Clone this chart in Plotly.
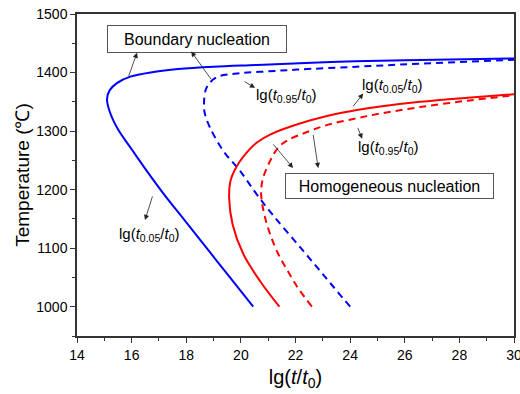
import plotly.graph_objects as go

# ---- data ----
boundary_005_x = [20.45, 19.6, 18.75, 17.9, 17.2, 16.6, 16.0, 15.5, 15.2, 15.1, 15.2, 15.46, 15.95, 16.8, 17.7, 19.0, 20.6, 23.3, 26.0, 30.0]
boundary_005_y = [1000, 1050, 1100, 1150, 1191, 1229, 1269, 1303, 1333, 1355, 1370, 1382, 1393, 1401, 1406, 1410, 1413, 1418, 1421, 1424]

boundary_095_x = [24.0, 23.1, 22.2, 21.2, 20.58, 19.97, 19.36, 18.87, 18.68, 18.65, 18.75, 19.12, 19.97, 21.0, 22.05, 24.25, 26.5, 30.0]
boundary_095_y = [1000, 1050, 1100, 1155, 1192, 1232, 1266, 1306, 1330, 1347, 1375, 1392, 1399, 1402, 1405, 1410, 1415, 1422]

homog_005_x = [21.41, 20.7, 20.09, 19.7, 19.57, 19.62, 19.85, 20.3, 20.6, 21.07, 22.1, 23.27, 24.25, 25.1, 26.56, 28.3, 30.0]
homog_005_y = [1000, 1044, 1090, 1140, 1186, 1215, 1240, 1268, 1281, 1294, 1312, 1327, 1336, 1342, 1350, 1357, 1363]

homog_095_x = [22.6, 22.05, 21.68, 21.37, 21.1, 20.9, 20.78, 20.74, 20.82, 21.07, 21.37, 21.7, 22.4, 23.2, 24.25, 25.1, 26.56, 28.3, 30.0]
homog_095_y = [1000, 1035, 1064, 1090, 1120, 1150, 1176, 1198, 1221, 1249, 1272, 1284, 1298, 1311, 1322, 1330, 1341, 1352, 1361]

x_ticks = [14, 16, 18, 20, 22, 24, 26, 28, 30]
y_ticks = [1000, 1100, 1200, 1300, 1400, 1500]

BLUE = "#0000ff"
RED = "#ff0000"
FONT = "Liberation Sans, Arial, sans-serif"
DASH = "7px,5px"

fig = go.Figure()
series = [
    (boundary_005_x, boundary_005_y, BLUE, "solid"),
    (boundary_095_x, boundary_095_y, BLUE, DASH),
    (homog_005_x, homog_005_y, RED, "solid"),
    (homog_095_x, homog_095_y, RED, DASH),
]
for xs, ys, col, dash in series:
    fig.add_trace(go.Scatter(
        x=xs, y=ys, mode="lines",
        line=dict(color=col, width=2, dash=dash, shape="spline", smoothing=1.0),
        showlegend=False, hoverinfo="skip"))

lbl005 = "lg(<i>t</i><sub>0.05</sub>/<i>t</i><sub>0</sub>)"
lbl095 = "lg(<i>t</i><sub>0.95</sub>/<i>t</i><sub>0</sub>)"

ann = []
# boxes
ann.append(dict(x=18.38, y=1458, xref="x", yref="y", text="Boundary nucleation",
                showarrow=False, font=dict(family=FONT, size=16, color="black"),
                bordercolor="#555", borderwidth=1, width=176, height=24, bgcolor="white"))
ann.append(dict(x=25.43, y=1207, xref="x", yref="y", text="Homogeneous nucleation",
                showarrow=False, font=dict(family=FONT, size=16, color="black"),
                bordercolor="#555", borderwidth=1, width=205, height=22, bgcolor="white"))
# labels
ann.append(dict(x=21.67, y=1361, xref="x", yref="y", text=lbl095, showarrow=False,
                font=dict(family=FONT, size=15, color="black")))
ann.append(dict(x=25.54, y=1378, xref="x", yref="y", text=lbl005, showarrow=False,
                font=dict(family=FONT, size=15, color="black")))
ann.append(dict(x=25.39, y=1272, xref="x", yref="y", text=lbl095, showarrow=False,
                font=dict(family=FONT, size=15, color="black")))
ann.append(dict(x=16.62, y=1123, xref="x", yref="y", text=lbl005, showarrow=False,
                font=dict(family=FONT, size=15, color="black")))

# arrows: (head_x, head_y, tail_x, tail_y)
arrows = [
    (16.2, 1434, 15.87, 1391),
    (18.18, 1436, 18.95, 1386),
    (20.52, 1374, 20.08, 1386),
    (24.48, 1364, 24.07, 1340),
    (24.44, 1287, 24.26, 1308),
    (21.91, 1237, 21.14, 1280),
    (22.83, 1237, 22.64, 1296),
    (16.49, 1148, 16.78, 1191),
]
for hx, hy, tx, ty in arrows:
    ann.append(dict(x=hx, y=hy, ax=tx, ay=ty, xref="x", yref="y", axref="x", ayref="y",
                    text="", showarrow=True, arrowhead=2, arrowsize=1.3, arrowwidth=0.8,
                    arrowcolor="#222", standoff=0, startstandoff=0))

fig.update_layout(
    width=520, height=394,
    margin=dict(l=77, r=6, t=14, b=58, autoexpand=False),
    paper_bgcolor="white", plot_bgcolor="white",
    font=dict(family=FONT, size=14, color="black"),
    annotations=ann,
)
fig.update_xaxes(
    range=[14, 30], tickvals=x_ticks, ticks="outside", ticklen=5, tickwidth=1.2,
    tickcolor="#333", showline=True, linecolor="#333", linewidth=1.5, mirror=True,
    showgrid=False, zeroline=False, tickfont=dict(size=14, family=FONT), automargin=False,
    ticklabeloverflow="allow",
    minor=dict(ticks="outside", ticklen=3, dtick=1, tick0=14, tickcolor="#333", tickwidth=1.2),
    title=dict(text="lg(<i>t</i>/<i>t</i><sub>0</sub>)", font=dict(size=20, family=FONT), standoff=8),
)
fig.update_yaxes(
    range=[950, 1500], tickvals=y_ticks, ticks="outside", ticklen=5, tickwidth=1.2,
    tickcolor="#333", showline=True, linecolor="#333", linewidth=1.5, mirror=True,
    showgrid=False, zeroline=False, tickfont=dict(size=14, family=FONT), automargin=False,
    ticklabeloverflow="allow",
    minor=dict(ticks="outside", ticklen=3, dtick=50, tick0=950, tickcolor="#333", tickwidth=1.2),
    title=dict(text="Temperature (℃)", font=dict(size=19, family=FONT), standoff=2),
)

fig.write_html("out.html")
